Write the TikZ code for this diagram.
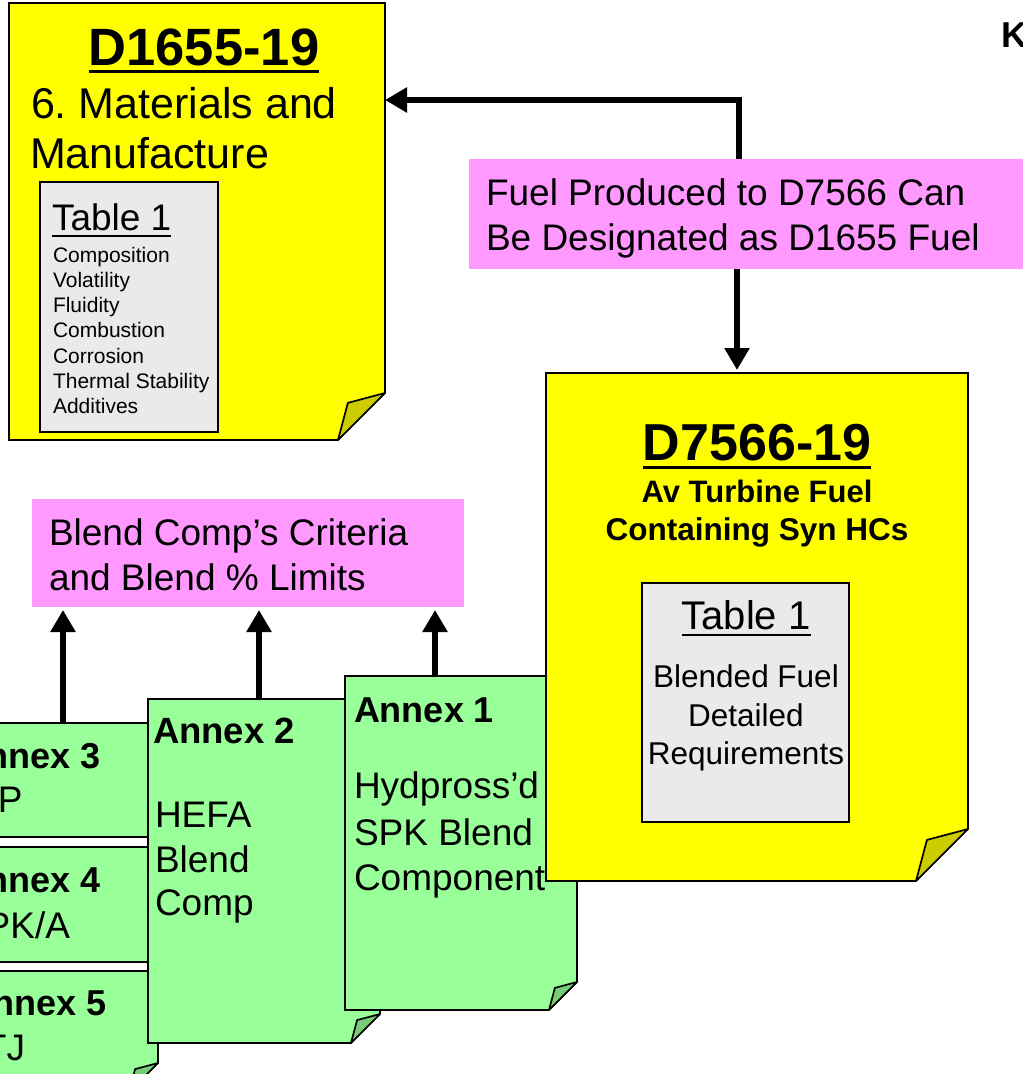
\documentclass[tikz,border=0pt]{standalone}
\usepackage{fontspec}
\setmainfont{Liberation Sans}
\usetikzlibrary{arrows.meta,calc}
\definecolor{docyellow}{HTML}{FFFF00}
\definecolor{foldyellow}{HTML}{CCCC00}
\definecolor{docgreen}{HTML}{99FF99}
\definecolor{foldgreen}{HTML}{77CC77}
\definecolor{notepink}{HTML}{FF99FF}
\definecolor{tablegray}{HTML}{EAEAEA}
\frenchspacing
\newcommand\fs[1]{\fontsize{#1}{#1}\selectfont}
\newcommand\foldpage[4]{%
  \filldraw[fill=#2, draw=black, line width=1.7pt, line join=miter]
    (#1.north west) -- (#1.north east) -- ($(#1.south east)+(0,-#3)$)
    -- ($(#1.south east)+(-#3,0)$) -- (#1.south west) -- cycle;
  \filldraw[fill=#4, draw=black, line width=1.7pt, line join=round]
    ($(#1.south east)+(0,-#3)$) -- ($(#1.south east)+(-0.79*#3,-0.79*#3)$)
    -- ($(#1.south east)+(-#3,0)$) -- cycle;
}
\tikzset{
  pagebox/.style={inner sep=0pt, outer sep=0pt, draw=none},
  tablebox/.style={inner sep=0pt, outer sep=0pt, fill=tablegray, draw=black, line width=1.7pt},
  pinkbox/.style={inner sep=0pt, outer sep=0pt, fill=notepink, draw=none},
  txt/.style={inner sep=0pt, outer sep=0pt, anchor=base west},
  ctxt/.style={inner sep=0pt, outer sep=0pt, anchor=base},
  uline/.style={line width=3pt},
  arrowline/.style={line width=6.5pt, -{Triangle[length=22pt,width=24pt]}},
}
\begin{document}
\begin{tikzpicture}[x=1pt,y=-1pt]
\useasboundingbox (0,0) rectangle (1023,1074);
\fill[white] (0,0) rectangle (1023,1074);

% ---------- D1655 ----------
\node[pagebox, minimum width=376pt, minimum height=437pt] (d1655) at (197,221.5) {};
\foldpage{d1655}{docyellow}{47}{foldyellow}
\node[ctxt, font=\bfseries\fs{52.5}] (d1655t) at (204,65) {D1655-19};
\draw[uline] ($(d1655t.base west)+(0,6)$) -- ($(d1655t.base east)+(0,6)$);
\node[txt, font=\fs{43}] (d1655a) at (31,118) {6. Materials and};
\node[txt, font=\fs{43}] (d1655b) at (30,168) {Manufacture};
\node[tablebox, minimum width=178pt, minimum height=250pt] (tab1) at (129,307) {};
\node[txt, font=\fs{37}] (tab1t) at (52,230) {Table 1};
\draw[line width=2pt] ($(tab1t.base west)+(0,6)$) -- ($(tab1t.base east)+(0,6)$);
\node[txt, font=\fs{21}] (i1) at (53,262) {Composition};
\node[txt, font=\fs{21}] (i2) at (53,287.3) {Volatility};
\node[txt, font=\fs{21}] (i3) at (53,312.6) {Fluidity};
\node[txt, font=\fs{21}] (i4) at (53,337.9) {Combustion};
\node[txt, font=\fs{21}] (i5) at (53,363.2) {Corrosion};
\node[txt, font=\fs{21}] (i6) at (53,388.5) {Thermal Stability};
\node[txt, font=\fs{21}] (i7) at (53,413.8) {Additives};

% ---------- K ----------
\node[txt, font=\bfseries\fs{36}] (key) at (1001,47) {K};

% ---------- Annexes 5,4,3 ----------
\node[pagebox, minimum width=218pt, minimum height=121pt] (annex5) at (49,1031.5) {};
\foldpage{annex5}{docgreen}{29}{foldgreen}
\node[txt, font=\bfseries\fs{36}] (a5t) at (-33,1015) {Annex 5};
\node[txt, font=\fs{37}] (a5b) at (-38,1060) {ATJ};

\node[pagebox, minimum width=218pt, minimum height=115pt] (annex4) at (49,904.5) {};
\foldpage{annex4}{docgreen}{9}{foldgreen}
\node[txt, font=\bfseries\fs{36}] (a4t) at (-39,892) {Annex 4};
\node[txt, font=\fs{37}] (a4b) at (-39,938) {SPK/A};

\node[pagebox, minimum width=218pt, minimum height=114pt] (annex3) at (49,780) {};
\foldpage{annex3}{docgreen}{9}{foldgreen}
\node[txt, font=\bfseries\fs{36}] (a3t) at (-39,768) {Annex 3};
\node[txt, font=\fs{37}] (a3b) at (-37,812) {SIP};

% ---------- Annex 2 ----------
\node[pagebox, minimum width=232pt, minimum height=344pt] (annex2) at (264,871) {};
\foldpage{annex2}{docgreen}{29}{foldgreen}
\node[txt, font=\bfseries\fs{36.5}] (a2t) at (153,743) {Annex 2};
\node[txt, font=\fs{37}] (a2b) at (155,827) {HEFA};
\node[txt, font=\fs{37}] (a2c) at (155,872) {Blend};
\node[txt, font=\fs{37}] (a2d) at (155,915) {Comp};

% ---------- Annex 1 ----------
\node[pagebox, minimum width=232pt, minimum height=334pt] (annex1) at (461,843) {};
\foldpage{annex1}{docgreen}{28}{foldgreen}
\node[txt, font=\bfseries\fs{36}] (a1t) at (354,722) {Annex 1};
\node[txt, font=\fs{37}] (a1b) at (354,798) {Hydpross’d};
\node[txt, font=\fs{37}] (a1c) at (354,845) {SPK Blend};
\node[txt, font=\fs{37}] (a1d) at (354,890) {Component};

% ---------- D7566 ----------
\node[pagebox, minimum width=422pt, minimum height=508pt] (d7566) at (757,627) {};
\foldpage{d7566}{docyellow}{52}{foldyellow}
\node[ctxt, font=\bfseries\fs{52}] (d7566t) at (757,460) {D7566-19};
\draw[uline] ($(d7566t.base west)+(0,7)$) -- ($(d7566t.base east)+(0,7)$);
\node[ctxt, font=\bfseries\fs{31}] (d7566a) at (757,502) {Av Turbine Fuel};
\node[ctxt, font=\bfseries\fs{31.5}] (d7566b) at (757,540) {Containing Syn HCs};
\node[tablebox, minimum width=207pt, minimum height=239pt] (tab2) at (745.5,702.5) {};
\node[ctxt, font=\fs{40}] (tab2t) at (746,629) {Table 1};
\draw[line width=2pt] ($(tab2t.base west)+(0,6)$) -- ($(tab2t.base east)+(0,6)$);
\node[ctxt, font=\fs{31.5}] (r1) at (746,687) {Blended Fuel};
\node[ctxt, font=\fs{31.5}] (r2) at (746,726) {Detailed};
\node[ctxt, font=\fs{31.5}] (r3) at (746,764) {Requirements};

% ---------- Pink notes ----------
\node[pinkbox, minimum width=565pt, minimum height=110pt] (pink1) at (751.5,214) {};
\node[txt, font=\fs{37}] (p1a) at (486,205) {Fuel Produced to D7566 Can};
\node[txt, font=\fs{37}] (p1b) at (486,250) {Be Designated as D1655 Fuel};

\node[pinkbox, minimum width=432pt, minimum height=108pt] (pink2) at (248,553) {};
\node[txt, font=\fs{37}] (p2a) at (49,545) {Blend Comp’s Criteria};
\node[txt, font=\fs{37}] (p2b) at (49,590) {and Blend \% Limits};

% ---------- Connectors ----------
\coordinate (xa) at (739,100);
\coordinate (xb) at (737,0);
\coordinate (xc) at (63,0);
\coordinate (xd) at (259,0);
\coordinate (xe) at (435,0);
\draw[arrowline] (pink1.north -| xa) |- (d1655.east |- xa);
\draw[arrowline, shorten >=3pt] (pink1.south -| xb) -- (d7566.north -| xb);
\draw[arrowline, shorten >=3pt] (annex3.north -| xc) -- (pink2.south -| xc);
\draw[arrowline, shorten >=3pt] (annex2.north -| xd) -- (pink2.south -| xd);
\draw[arrowline, shorten >=3pt] (annex1.north -| xe) -- (pink2.south -| xe);
\end{tikzpicture}
\end{document}
